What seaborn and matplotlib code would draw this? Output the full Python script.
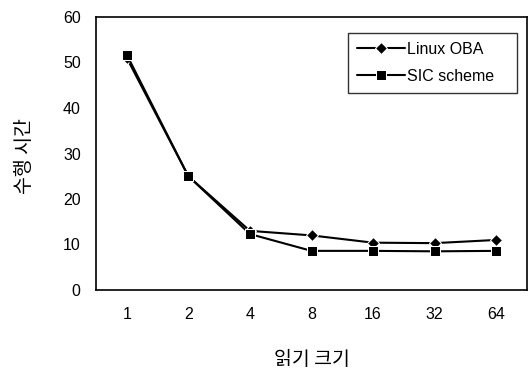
import matplotlib
matplotlib.use("Agg")
import matplotlib.pyplot as plt
import seaborn as sns
import pandas as pd
import numpy as np

categories = ["1", "2", "4", "8", "16", "32", "64"]
linux_oba = [51, 25, 13, 12, 10.4, 10.3, 11]
sic_scheme = [51.7, 25, 12.3, 8.6, 8.6, 8.5, 8.6]
series_names = ["Linux OBA", "SIC scheme"]
y_ticks = [0, 10, 20, 30, 40, 50, 60]

sns.set_theme(style="white")
plt.rcParams['font.family'] = ['Liberation Sans', 'Noto Sans CJK KR', 'DejaVu Sans']
plt.rcParams['text.color'] = 'black'
plt.rcParams['axes.labelcolor'] = 'black'
plt.rcParams['xtick.color'] = 'black'
plt.rcParams['ytick.color'] = 'black'

df = pd.DataFrame({
    "pos": list(range(len(categories))) * 2,
    "value": linux_oba + sic_scheme,
    "series": [series_names[0]] * len(categories) + [series_names[1]] * len(categories),
})

W, H = 528, 371
fig = plt.figure(figsize=(W / 100, H / 100), dpi=100)
ax = fig.add_axes([96 / W, 1 - 290 / H, (527 - 96) / W, (290 - 17) / H])

sns.lineplot(data=df, x="pos", y="value", hue="series", style="series",
             markers={series_names[0]: "D", series_names[1]: "s"},
             dashes=False, palette=["black", "black"], linewidth=1.5,
             markersize=7, ax=ax)
for line in ax.get_lines():
    if line.get_marker() == "D":
        line.set_markersize(6.5)
    elif line.get_marker() == "s":
        line.set_markersize(7.5)

ax.set_xlim(-0.5, len(categories) - 0.5)
ax.set_ylim(0, 60)
ax.set_yticks(y_ticks)
ax.set_yticklabels([str(t) for t in y_ticks], fontsize=11.5, color="black")
ax.set_xticks(range(len(categories)))
ax.set_xticklabels(categories, fontsize=11.5, color="black")
ax.tick_params(axis="x", which="major", length=0, pad=12)
ax.set_xticks(np.arange(0.5, len(categories) - 1, 1.0), minor=True)
ax.tick_params(axis="x", which="minor", direction="in", length=5, width=1, color="black")
ax.tick_params(axis="y", which="major", direction="in", length=5, width=1, color="black", pad=11)

for s in ax.spines.values():
    s.set_color("black")
    s.set_linewidth(1.2)

ax.set_xlabel("읽기 크기", fontsize=14, family=['Noto Sans CJK KR'], color="black")
ax.set_ylabel("수행 시간", fontsize=14, family=['Noto Sans CJK KR'], color="black")
ax.xaxis.set_label_coords(0.5, (290 - 349) / 273)
ax.yaxis.set_label_coords((35 - 96) / 431, (290 - 156) / 273)

x0 = (348 - 96) / 431
x1 = (517 - 96) / 431
ytop = (290 - 33) / 273
leg = ax.legend(loc="upper left", bbox_to_anchor=(x0, ytop - 0.3, x1 - x0, 0.3),
                mode="expand", borderaxespad=0, frameon=True,
                fancybox=False, edgecolor="black", fontsize=11.5, handlelength=3.0,
                borderpad=0.55, labelspacing=0.75, handletextpad=0.15)
leg.get_frame().set_linewidth(1.0)
leg.set_title(None)
for t in leg.get_texts():
    t.set_color("black")

fig.savefig("out.png", dpi=100, facecolor="white")
